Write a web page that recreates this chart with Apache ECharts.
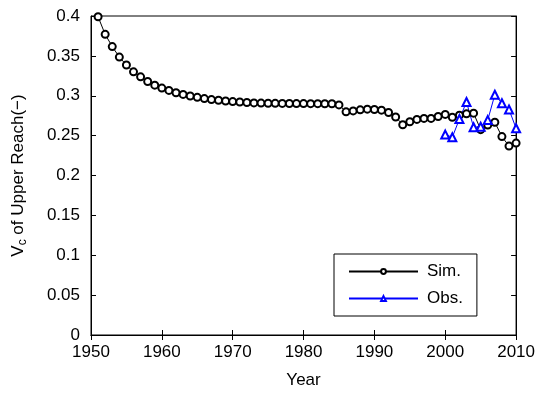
<!DOCTYPE html>
<html>
<head>
<meta charset="utf-8">
<script src="https://cdn.jsdelivr.net/npm/echarts@6/dist/echarts.min.js"></script>
<style>
  html, body { margin: 0; padding: 0; background: #fff; }
  #chart { width: 538px; height: 394px; }
</style>
</head>
<body>
<div id="chart"></div>
<script>
// simulated values, one per year 1951..2010
const simYears = [];
for (let y = 1951; y <= 2010; y++) simYears.push(y);
const simValues = [
  0.399, 0.377, 0.3616, 0.3485, 0.3385, 0.330, 0.3237, 0.3178, 0.3133, 0.3096,
  0.3067, 0.3038, 0.3017, 0.2997, 0.298, 0.2964, 0.2952, 0.2943, 0.2934, 0.2927,
  0.2922, 0.2915, 0.291, 0.2908, 0.2906, 0.2905, 0.2904, 0.2903, 0.2902, 0.2902,
  0.2901, 0.2901, 0.290, 0.290, 0.2885, 0.2798, 0.281, 0.2823, 0.2832, 0.2828,
  0.2819, 0.279, 0.2733, 0.2637, 0.2674, 0.2703, 0.2716, 0.2716, 0.274, 0.2766,
  0.2729, 0.2757, 0.2773, 0.2782, 0.2575, 0.2633, 0.2667, 0.2488, 0.2369, 0.2406
];
const obsYears = [2000, 2001, 2002, 2003, 2004, 2005, 2006, 2007, 2008, 2009, 2010];
const obsValues = [0.2513, 0.248, 0.2708, 0.2922, 0.2605, 0.2612, 0.2695, 0.3013, 0.2906, 0.2828, 0.2592];

const font = "'Liberation Sans', Arial, sans-serif";
const chart = echarts.init(document.getElementById("chart"));

const tickStyle = { show: true, inside: true, length: 5, lineStyle: { color: "#000", width: 1 } };

chart.setOption({
  animation: false,
  textStyle: { fontFamily: font },
  grid: { left: 91, right: 21, top: 16, bottom: 55.5, show: true, borderColor: "#000", borderWidth: 1 },
  legend: {
    orient: "vertical",
    left: 334,
    top: 254,
    backgroundColor: "#fff",
    borderColor: "#000",
    borderWidth: 1,
    padding: [9, 14, 9, 14],
    itemGap: 10,
    itemWidth: 69,
    itemHeight: 6,
    textStyle: { fontFamily: font, fontSize: 17, color: "#000", padding: [0, 0, 0, 4] },
    data: ["Sim.", "Obs."]
  },
  xAxis: [
    {
      type: "value", min: 1950, max: 2010, interval: 10,
      name: "Year", nameLocation: "middle", nameGap: 37,
      nameTextStyle: { fontFamily: font, fontSize: 17, color: "#000" },
      axisLine: { show: true, onZero: false, lineStyle: { color: "#000" } },
      axisTick: tickStyle,
      axisLabel: { fontFamily: font, fontSize: 17, color: "#000", margin: 9, formatter: (v) => String(v) },
      splitLine: { show: false }
    },
    {
      type: "value", min: 1950, max: 2010, interval: 10, position: "top",
      axisLine: { show: true, lineStyle: { color: "#000" } },
      axisTick: tickStyle, axisLabel: { show: false }, splitLine: { show: false }
    }
  ],
  yAxis: [
    {
      type: "value", min: 0, max: 0.4, interval: 0.05,
      name: "V{sub|c} of Upper Reach(\u2212)", nameLocation: "middle", nameGap: 62,
      nameTextStyle: {
        fontFamily: font, fontSize: 17, color: "#000",
        rich: { sub: { fontFamily: font, fontSize: 12, verticalAlign: "bottom", padding: [10, 0, 0, 0] } }
      },
      axisLine: { show: true, onZero: false, lineStyle: { color: "#000" } },
      axisTick: tickStyle,
      axisLabel: { fontFamily: font, fontSize: 17, color: "#000", margin: 11 },
      splitLine: { show: false }
    },
    {
      type: "value", min: 0, max: 0.4, interval: 0.05, position: "right",
      axisLine: { show: true, lineStyle: { color: "#000" } },
      axisTick: tickStyle, axisLabel: { show: false }, splitLine: { show: false }
    }
  ],
  series: [
    {
      name: "Sim.", type: "line",
      data: simYears.map((y, i) => [y, simValues[i]]),
      symbol: "emptyCircle", symbolSize: 7,
      lineStyle: { color: "#000", width: 1 },
      itemStyle: { color: "#000", borderColor: "#000", borderWidth: 1 }
    },
    {
      name: "Obs.", type: "line",
      data: obsYears.map((y, i) => [y, obsValues[i]]),
      symbol: "emptyTriangle", symbolSize: 8,
      lineStyle: { color: "#0000ff", width: 1 },
      itemStyle: { color: "#0000ff", borderColor: "#0000ff", borderWidth: 1 }
    }
  ]
});
</script>
</body>
</html>
